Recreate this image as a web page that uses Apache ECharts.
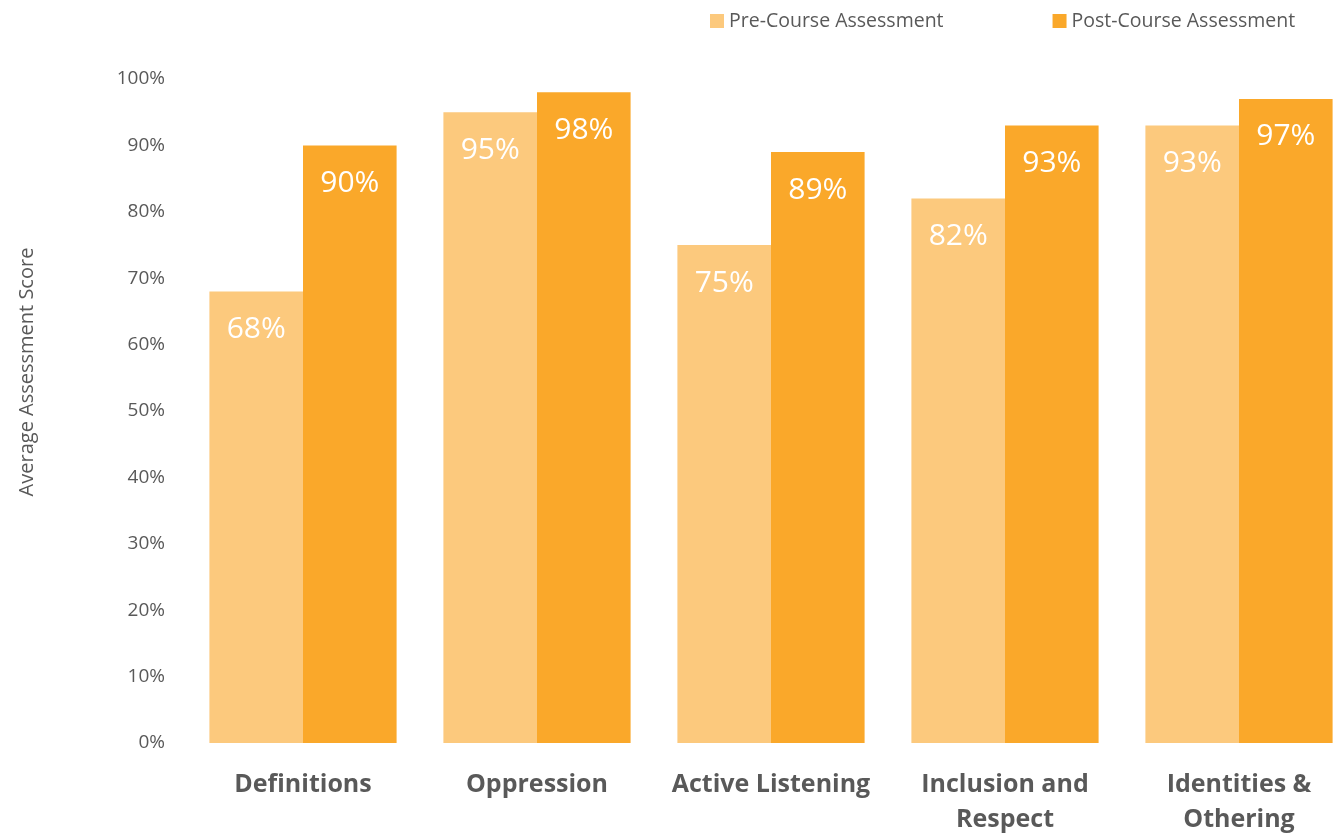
<!DOCTYPE html>
<html>
<head>
<meta charset="utf-8">
<script src="https://cdn.jsdelivr.net/npm/echarts@6/dist/echarts.min.js"></script>
<style>
html, body { margin: 0; padding: 0; background: #fff; }
#chart { width: 1335px; height: 833px; }
</style>
</head>
<body>
<div id="chart"></div>
<script>
// 数据
var categories = ['Definitions', 'Oppression', 'Active Listening', 'Inclusion and\nRespect', 'Identities &\nOthering'];
var preCourse = [68, 95, 75, 82, 93];
var postCourse = [90, 98, 89, 93, 97];
var seriesNames = ['Pre-Course Assessment', 'Post-Course Assessment'];

var textColor = '#595959';
var fontFamily = '"Open Sans", "Noto Sans", sans-serif';

function barLabel() {
	return {
		show : true,
		position : 'insideTop',
		distance : 23,
		color : '#fff',
		fontSize : 30,
		fontFamily : fontFamily,
		formatter : '{c}%'
	};
}

var option = {
	backgroundColor : '#fff',
	animation : false,
	legend : {
		top : 6,
		left : 705,
		itemWidth : 14,
		itemHeight : 14,
		itemGap : 109,
		icon : 'rect',
		textStyle : {
			color : textColor,
			fontSize : 19.5,
			fontFamily : fontFamily
		},
		data : seriesNames
	},
	grid : {
		left : 186,
		top : 79,
		width : 1170,
		height : 664,
		outerBoundsMode : 'none',
		containLabel : false
	},
	xAxis : {
		type : 'category',
		data : categories,
		axisLine : { show : false },
		axisTick : { show : false },
		axisLabel : {
			margin : 24,
			color : textColor,
			fontSize : 25,
			fontWeight : 'bold',
			fontFamily : fontFamily,
			lineHeight : 35,
			interval : 0
		}
	},
	yAxis : {
		type : 'value',
		min : 0,
		max : 100,
		interval : 10,
		splitLine : { show : false },
		axisLine : { show : false },
		axisLabel : {
			margin : 21,
			color : textColor,
			fontSize : 19,
			fontFamily : fontFamily,
			formatter : '{value}%'
		}
	},
	graphic : [ {
		type : 'text',
		x : 17,
		y : 372,
		rotation : Math.PI / 2,
		style : {
			text : 'Average Assessment Score',
			fill : textColor,
			font : '20px "Open Sans", sans-serif',
			align : 'center',
			verticalAlign : 'top'
		}
	} ],
	series : [ {
		name : seriesNames[0],
		type : 'bar',
		data : preCourse,
		barGap : '0%',
		barCategoryGap : '20%',
		itemStyle : { color : '#FCC97D' },
		label : barLabel()
	}, {
		name : seriesNames[1],
		type : 'bar',
		data : postCourse,
		itemStyle : { color : '#FAA82A' },
		label : barLabel()
	} ]
};

var myChart = echarts.init(document.getElementById('chart'));
myChart.setOption(option);
</script>
</body>
</html>
